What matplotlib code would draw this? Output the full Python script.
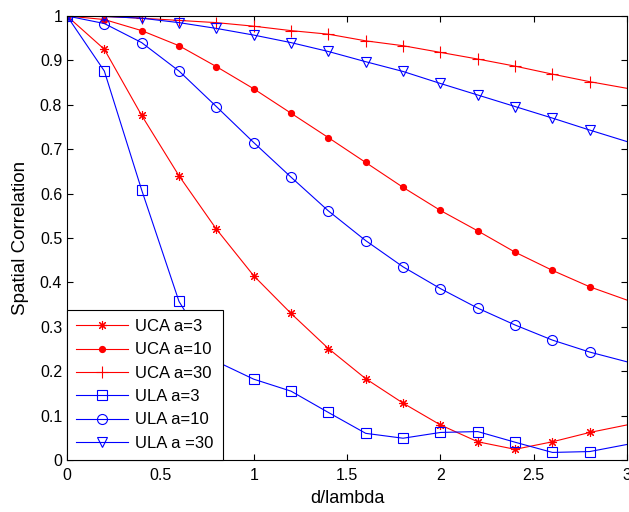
import numpy as np
import matplotlib
matplotlib.use("Agg")
import matplotlib.pyplot as plt

plt.rcParams['font.family'] = ['Liberation Sans', 'DejaVu Sans']

# distância normalizada entre elementos
d_lambda = [0, 0.2, 0.4, 0.6, 0.8, 1.0, 1.2, 1.4, 1.6, 1.8, 2.0, 2.2, 2.4, 2.6, 2.8, 3.0]

# correlação espacial para arranjo circular (UCA)
uca_a3 = [1.0, 0.925, 0.776, 0.640, 0.520, 0.415, 0.330, 0.251, 0.183, 0.128,
          0.079, 0.041, 0.024, 0.041, 0.062, 0.079]
uca_a10 = [1.0, 0.992, 0.967, 0.933, 0.886, 0.836, 0.781, 0.726, 0.670, 0.614,
           0.562, 0.516, 0.468, 0.427, 0.390, 0.360]
uca_a30 = [1.0, 0.999, 0.995, 0.990, 0.985, 0.977, 0.967, 0.959, 0.944, 0.933,
           0.918, 0.903, 0.887, 0.869, 0.852, 0.837]

# correlação espacial para arranjo linear (ULA)
ula_a3 = [1.0, 0.876, 0.608, 0.357, 0.222, 0.182, 0.155, 0.107, 0.060, 0.049,
          0.062, 0.064, 0.040, 0.017, 0.019, 0.035]
ula_a10 = [1.0, 0.983, 0.940, 0.876, 0.796, 0.715, 0.637, 0.561, 0.494, 0.435,
           0.386, 0.342, 0.304, 0.270, 0.243, 0.221]
ula_a30 = [1.0, 0.999, 0.995, 0.985, 0.972, 0.957, 0.940, 0.920, 0.897, 0.875,
           0.848, 0.822, 0.796, 0.770, 0.743, 0.717]

fig = plt.figure(figsize=(6.29, 5.12), dpi=100)
ax = fig.add_axes([0.1065, 0.1016, 0.8905, 0.8672])

# marcadores em todos os pontos, exceto o último (x = 3)
marcas = slice(0, len(d_lambda) - 1)
lw = 0.8

ax.plot(d_lambda, uca_a3, color='r', lw=lw, marker=(8, 2, 0), ms=6.5, mew=0.8,
        markevery=marcas, label='UCA a=3')
ax.plot(d_lambda, uca_a10, color='r', lw=lw, marker='o', ms=4.2,
        markevery=marcas, label='UCA a=10')
ax.plot(d_lambda, uca_a30, color='r', lw=lw, marker='+', ms=8, mew=0.8,
        markevery=marcas, label='UCA a=30')
ax.plot(d_lambda, ula_a3, color='b', lw=lw, marker='s', ms=7.2, mfc='none', mew=0.8,
        markevery=marcas, label='ULA a=3')
ax.plot(d_lambda, ula_a10, color='b', lw=lw, marker='o', ms=7.2, mfc='none', mew=0.8,
        markevery=marcas, label='ULA a=10')
ax.plot(d_lambda, ula_a30, color='b', lw=lw, marker='v', ms=7.8, mfc='none', mew=0.8,
        markevery=marcas, label='ULA a =30')

ax.set_xlim(0, 3)
ax.set_ylim(0, 1)
ax.set_xticks([0, 0.5, 1, 1.5, 2, 2.5, 3])
ax.set_xticklabels(['0', '0.5', '1', '1.5', '2', '2.5', '3'])
ax.set_yticks(np.arange(0, 1.01, 0.1))
ax.set_yticklabels(['0', '0.1', '0.2', '0.3', '0.4', '0.5', '0.6', '0.7', '0.8', '0.9', '1'])
ax.tick_params(direction='in', top=True, right=True, labelsize=11.5, length=4, width=0.8)
ax.tick_params(axis='x', pad=6)

ax.set_xlabel('d/lambda', fontsize=13, labelpad=5)
ax.set_ylabel('Spatial Correlation', fontsize=13.5, labelpad=8)

leg = ax.legend(loc='lower left', fontsize=12, frameon=True, fancybox=False,
                edgecolor='black', framealpha=1, borderaxespad=0, handlelength=3.1,
                labelspacing=0.5, borderpad=0.55, handletextpad=0.45)
leg.get_frame().set_linewidth(0.8)

for s in ax.spines.values():
    s.set_linewidth(0.8)

fig.savefig('out.png', dpi=100)
